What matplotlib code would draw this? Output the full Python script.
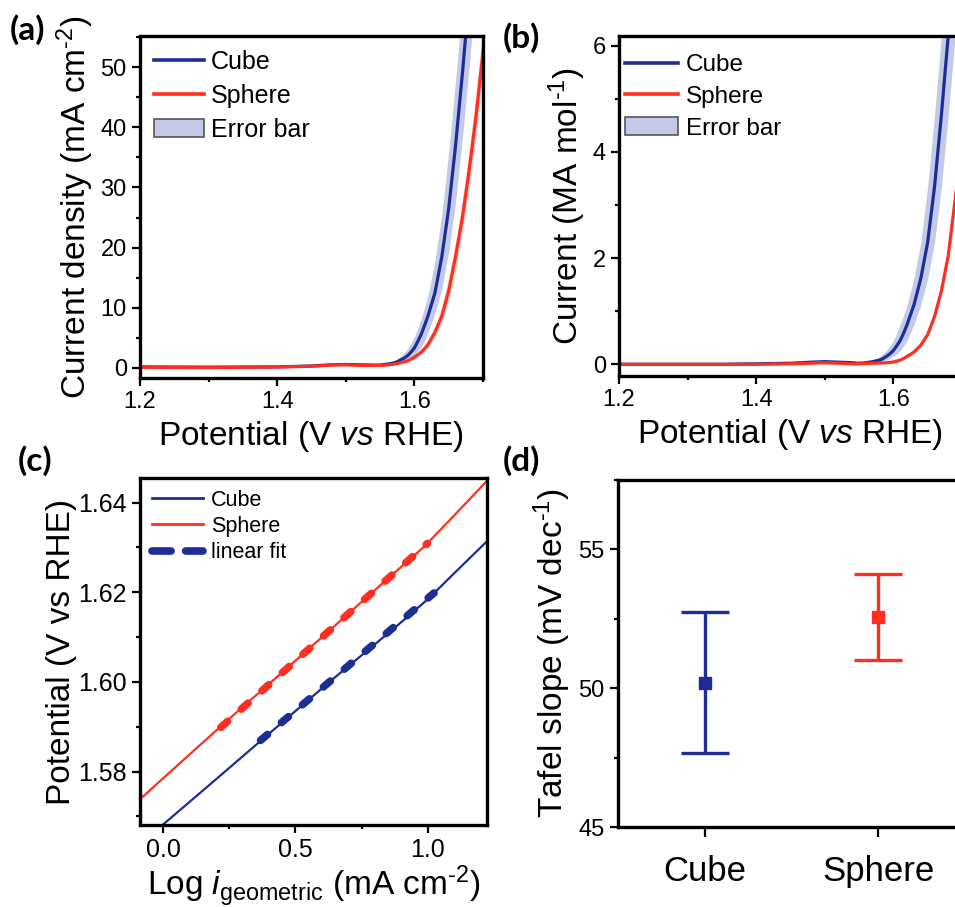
import matplotlib
matplotlib.use("Agg")
import matplotlib.pyplot as plt
from matplotlib.ticker import MultipleLocator, FormatStrFormatter
from matplotlib.lines import Line2D
from matplotlib.patches import Patch
import numpy as np

plt.rcParams['font.family'] = ['Liberation Sans', 'DejaVu Sans']
plt.rcParams['mathtext.fontset'] = 'custom'
plt.rcParams['mathtext.rm'] = 'Liberation Sans'
plt.rcParams['mathtext.it'] = 'Liberation Sans:italic'
plt.rcParams['mathtext.bf'] = 'Liberation Sans:bold'

BLUE = '#1c2d96'
RED = '#ff2e1f'
BAND_BLUE = '#c3c9e6'
BAND_RED = '#f8c8c8'

# ---------------- LSV data (potential in V vs RHE) ----------------
potential = [1.20, 1.25, 1.30, 1.35, 1.40, 1.45, 1.48, 1.50, 1.52, 1.54,
             1.55, 1.56, 1.57, 1.575, 1.58, 1.585, 1.59, 1.595, 1.60, 1.605,
             1.61, 1.615, 1.62, 1.63, 1.64, 1.65, 1.66, 1.67, 1.68, 1.69,
             1.70, 1.71]

# (a) geometric current density, mA cm^-2
cube_j = [0.15, 0.12, 0.10, 0.12, 0.15, 0.30, 0.50, 0.55, 0.50, 0.45,
          0.45, 0.60, 0.80, 1.00, 1.30, 1.60, 2.00, 2.60, 3.30, 4.40,
          5.60, 7.10, 8.70, 12.5, 18.5, 26.5, 37.0, 49.0, 62.0, 75.0,
          88.0, 101.0]
cube_j_hi = [0.18, 0.15, 0.13, 0.15, 0.18, 0.34, 0.55, 0.60, 0.56, 0.52,
             0.58, 0.78, 1.20, 1.50, 1.90, 2.45, 3.10, 4.10, 5.20, 6.60,
             8.20, 10.1, 12.1, 17.8, 25.6, 35.8, 47.8, 60.7, 73.7, 86.7,
             99.7, 112.0]
cube_j_lo = [0.12, 0.09, 0.07, 0.09, 0.12, 0.26, 0.45, 0.50, 0.45, 0.40,
             0.40, 0.47, 0.62, 0.72, 0.85, 1.08, 1.37, 1.70, 2.10, 2.75,
             3.50, 4.60, 5.90, 9.10, 13.1, 19.3, 27.5, 38.2, 50.3, 63.3,
             76.3, 89.0]
sphere_j = [0.10, 0.05, 0.05, 0.08, 0.12, 0.25, 0.45, 0.50, 0.40, 0.38,
            0.40, 0.45, 0.60, 0.72, 0.85, 1.00, 1.15, 1.42, 1.75, 2.15,
            2.60, 3.20, 3.90, 5.90, 8.60, 12.8, 18.5, 25.0, 33.0, 42.0,
            52.5, 63.0]
sphere_j_hi = [0.12, 0.07, 0.07, 0.10, 0.14, 0.27, 0.47, 0.52, 0.42, 0.40,
               0.42, 0.51, 0.70, 0.83, 0.97, 1.16, 1.39, 1.72, 2.09, 2.58,
               3.12, 3.86, 4.70, 6.98, 10.3, 15.1, 21.1, 28.2, 36.6, 46.2,
               56.7, 67.0]
sphere_j_lo = [0.08, 0.03, 0.03, 0.06, 0.10, 0.23, 0.43, 0.48, 0.38, 0.36,
               0.38, 0.43, 0.54, 0.64, 0.75, 0.88, 1.03, 1.26, 1.51, 1.86,
               2.26, 2.78, 3.38, 5.10, 7.52, 11.1, 16.2, 22.4, 29.8, 38.4,
               48.3, 59.0]

# (b) mass-normalised current, MA mol^-1
cube_m = [0.00, 0.00, 0.00, 0.00, 0.01, 0.02, 0.04, 0.05, 0.04, 0.03,
          0.02, 0.03, 0.05, 0.065, 0.08, 0.11, 0.15, 0.20, 0.26, 0.35,
          0.45, 0.59, 0.75, 1.12, 1.62, 2.30, 3.35, 4.70, 6.20, 7.80,
          9.40, 11.0]
cube_m_hi = [0.01, 0.01, 0.01, 0.01, 0.02, 0.03, 0.05, 0.06, 0.05, 0.04,
             0.03, 0.05, 0.08, 0.11, 0.15, 0.20, 0.26, 0.35, 0.45, 0.59,
             0.75, 0.93, 1.12, 1.62, 2.30, 3.35, 4.70, 6.20, 7.80, 9.40,
             11.0, 12.6]
cube_m_lo = [0.00, 0.00, 0.00, 0.00, 0.00, 0.01, 0.03, 0.04, 0.03, 0.02,
             0.015, 0.02, 0.03, 0.04, 0.05, 0.065, 0.08, 0.11, 0.15, 0.20,
             0.26, 0.35, 0.45, 0.75, 1.12, 1.62, 2.30, 3.35, 4.70, 6.20,
             7.80, 9.40]
sphere_m = [0.00, 0.00, 0.00, 0.00, 0.00, 0.01, 0.02, 0.03, 0.02, 0.01,
            0.01, 0.015, 0.02, 0.022, 0.025, 0.027, 0.03, 0.037, 0.045, 0.06,
            0.08, 0.11, 0.15, 0.23, 0.36, 0.56, 0.90, 1.38, 2.05, 3.10,
            4.30, 5.60]

# (c) Tafel plots: log(i / mA cm^-2) vs potential
log_cube = [-0.09, 0.006, 0.20, 0.387, 0.63, 0.873, 1.004, 1.10, 1.23]
tafel_cube = [1.5640, 1.5685, 1.5783, 1.5878, 1.6001, 1.6120, 1.6187, 1.6243, 1.6318]
log_sphere = [-0.09, 0.231, 0.524, 0.836, 0.986, 1.10, 1.23]
tafel_sphere = [1.5737, 1.5908, 1.6060, 1.6224, 1.6302, 1.6372, 1.6453]
# linear fits: slope (V/dec), intercept (V), fitted range
fit_cube = (0.0502, 1.5685, 0.368, 1.023)
fit_sphere = (0.0526, 1.5784, 0.218, 0.998)

# (d) Tafel slopes, mV dec^-1
samples = ['Cube', 'Sphere']
tafel_mean = [50.2, 52.55]
tafel_err = [2.55, 1.55]

# ---------------- figure ----------------
W, H = 955, 907
fig = plt.figure(figsize=(W / 100, H / 100), dpi=100)


def box(l, t, r, b):
    return [l / W, 1 - b / H, (r - l) / W, (b - t) / H]


ax_a = fig.add_axes(box(140, 36, 483, 378))
ax_b = fig.add_axes(box(619, 36, 962, 376))
ax_c = fig.add_axes(box(140, 478, 487, 825))
ax_d = fig.add_axes(box(618, 480, 965, 827))

for ax in (ax_a, ax_b, ax_c, ax_d):
    for s in ax.spines.values():
        s.set_linewidth(2.4)
    ax.tick_params(which='both', direction='out', top=False, right=False,
                   width=1.6)
    ax.tick_params(which='major', length=5.5, labelsize=17, pad=4)
    ax.tick_params(which='minor', length=3)

LABEL_FS = 24

# ---- (a) ----
ax_a.fill_between(potential, cube_j_lo, cube_j_hi, color=BAND_BLUE, lw=0)
ax_a.fill_between(potential, sphere_j_lo, sphere_j_hi, color=BAND_RED, lw=0, alpha=0.8)
ax_a.plot(potential, cube_j, color=BLUE, lw=2.3)
ax_a.plot(potential, sphere_j, color=RED, lw=2.3)
ax_a.set_xlim(1.2, 1.70)
ax_a.set_ylim(-1.7, 55.2)
ax_a.xaxis.set_major_locator(MultipleLocator(0.2))
ax_a.xaxis.set_minor_locator(MultipleLocator(0.1))
ax_a.yaxis.set_major_locator(MultipleLocator(10))
ax_a.yaxis.set_minor_locator(MultipleLocator(5))
ax_a.set_xlabel(r'Potential (V $\mathit{vs}$ RHE)', fontsize=LABEL_FS, labelpad=4)
ax_a.set_ylabel(r'Current density (mA cm$^{\text{-2}}$)', fontsize=LABEL_FS, labelpad=3)

handles_ab = [Line2D([], [], color=BLUE, lw=2.6),
              Line2D([], [], color=RED, lw=2.6),
              Patch(facecolor=BAND_BLUE, edgecolor='#555555', lw=1.2)]
ax_a.legend(handles_ab, ['Cube', 'Sphere', 'Error bar'], loc='upper left',
            bbox_to_anchor=(0.04, 0.960), frameon=False, fontsize=18,
            borderaxespad=0, borderpad=0, handlelength=2.0,
            handletextpad=0.3, labelspacing=0.40)

# ---- (b) ----
ax_b.fill_between(potential, cube_m_lo, cube_m_hi, color=BAND_BLUE, lw=0)
ax_b.plot(potential, cube_m, color=BLUE, lw=2.3)
ax_b.plot(potential, sphere_m, color=RED, lw=2.3)
ax_b.set_xlim(1.2, 1.70)
ax_b.set_ylim(-0.22, 6.18)
ax_b.xaxis.set_major_locator(MultipleLocator(0.2))
ax_b.xaxis.set_minor_locator(MultipleLocator(0.1))
ax_b.yaxis.set_major_locator(MultipleLocator(2))
ax_b.yaxis.set_minor_locator(MultipleLocator(1))
ax_b.set_xlabel(r'Potential (V $\mathit{vs}$ RHE)', fontsize=LABEL_FS, labelpad=4)
ax_b.set_ylabel(r'Current (MA mol$^{\text{-1}}$)', fontsize=LABEL_FS, labelpad=3)
ax_b.legend(handles_ab, ['Cube', 'Sphere', 'Error bar'], loc='upper left',
            bbox_to_anchor=(0.017, 0.947), frameon=False, fontsize=17.5,
            borderaxespad=0, borderpad=0, handlelength=2.2,
            handletextpad=0.3, labelspacing=0.40)

# ---- (c) ----
ax_c.plot(log_cube, tafel_cube, color=BLUE, lw=1.6)
ax_c.plot(log_sphere, tafel_sphere, color=RED, lw=1.6)
for (k, b0, x0, x1), col in ((fit_sphere, RED), (fit_cube, BLUE)):
    xf = np.array([x0, x1])
    ax_c.plot(xf, b0 + k * xf, color=col, lw=5.5, dashes=(1.2, 2.4),
              dash_capstyle='round')
ax_c.set_xlim(-0.087, 1.223)
ax_c.set_ylim(1.5681, 1.6455)
ax_c.xaxis.set_major_locator(MultipleLocator(0.5))
ax_c.xaxis.set_minor_locator(MultipleLocator(0.25))
ax_c.yaxis.set_major_locator(MultipleLocator(0.02))
ax_c.yaxis.set_minor_locator(MultipleLocator(0.01))
ax_c.yaxis.set_major_formatter(FormatStrFormatter('%.2f'))
ax_c.xaxis.set_major_formatter(FormatStrFormatter('%.1f'))
ax_c.tick_params(labelsize=18)
ax_c.set_xlabel(r'Log $\mathit{i}_{\mathrm{geometric}}$ (mA cm$^{\text{-2}}$)',
                fontsize=LABEL_FS, labelpad=1)
ax_c.set_ylabel('Potential (V vs RHE)', fontsize=LABEL_FS, labelpad=1)
handles_c = [Line2D([], [], color=BLUE, lw=2.0),
             Line2D([], [], color=RED, lw=2.0),
             Line2D([], [], color=BLUE, lw=5.5, dashes=(2.5, 1.9),
                    dash_capstyle='round')]
ax_c.legend(handles_c, ['Cube', 'Sphere', 'linear fit'], loc='upper left',
            bbox_to_anchor=(0.034, 0.966), frameon=False, fontsize=15.5,
            borderaxespad=0, borderpad=0, handlelength=2.4,
            handletextpad=0.35, labelspacing=0.24)

# ---- (d) ----
for i, (m, e, col) in enumerate(zip(tafel_mean, tafel_err, (BLUE, RED))):
    ax_d.errorbar(i, m, yerr=e, fmt='s', color=col, ms=8, elinewidth=2.4,
                  capsize=17, capthick=2.4)
ax_d.set_xlim(-0.5, 1.5)
ax_d.set_ylim(45, 57.5)
ax_d.set_xticks(range(len(samples)))
ax_d.set_xticklabels(samples)
ax_d.yaxis.set_major_locator(MultipleLocator(5))
ax_d.yaxis.set_minor_locator(MultipleLocator(2.5))
ax_d.tick_params(axis='x', labelsize=25, pad=13, length=7)
ax_d.tick_params(axis='y', labelsize=17)
ax_d.set_ylabel(r'Tafel slope (mV dec$^{\text{-1}}$)', fontsize=LABEL_FS, labelpad=4)

# panel letters
for txt, x, y in (('(a)', 10, 14), ('(b)', 503, 22), ('(c)', 18, 445), ('(d)', 503, 445)):
    fig.text(x / W, 1 - y / H, txt, fontsize=24, fontweight='bold',
             family=['Lato', 'DejaVu Sans'], va='top', ha='left')

fig.savefig('out.png', dpi=100)
